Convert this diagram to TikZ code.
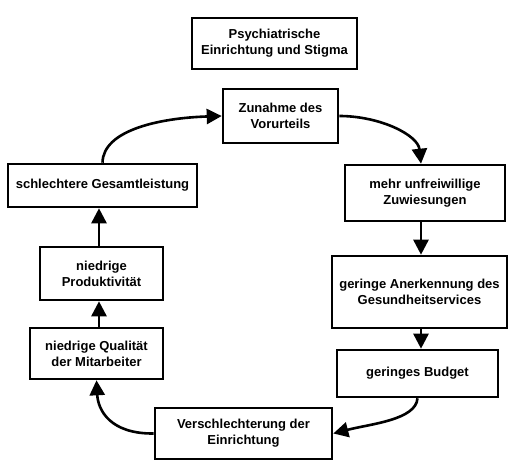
\documentclass[tikz,border=0pt]{standalone}
\usepackage{fontspec}
\setmainfont{Liberation Sans}
\usetikzlibrary{arrows.meta}
\begin{document}
\begin{tikzpicture}[x=1pt,y=-1pt,
  box/.style={draw,line width=2.6pt,inner sep=0pt,align=center,font=\bfseries\fontsize{13}{16}\selectfont},
  conn/.style={line width=2.6pt,-{Triangle[length=15pt,width=15pt]}}]
\useasboundingbox (0,0) rectangle (515,468);
\node[box,minimum width=165pt,minimum height=51pt] (t) at (274.5,43.5) {Psychiatrische\\Einrichtung und Stigma};
\node[box,minimum width=115pt,minimum height=54pt] (z) at (280.5,116) {Zunahme des\\Vorurteils};
\node[box,minimum width=189pt,minimum height=43pt] (s) at (102.5,185.5) {schlechtere Gesamtleistung};
\node[box,minimum width=160pt,minimum height=56pt] (m) at (425,193) {mehr unfreiwillige\\Zuwiesungen};
\node[box,minimum width=123pt,minimum height=53pt] (p) at (101.5,273.5) {niedrige\\Produktivität};
\node[box,minimum width=175pt,minimum height=72pt] (g) at (419.5,292) {geringe Anerkennung des\\Gesundheitservices};
\node[box,minimum width=133pt,minimum height=51pt] (q) at (96.5,353.5) {niedrige Qualität\\der Mitarbeiter};
\node[box,minimum width=161pt,minimum height=47pt] (b) at (417.5,373.5) {geringes Budget};
\node[box,minimum width=177pt,minimum height=51pt] (v) at (243.5,433.5) {Verschlechterung der\\Einrichtung};
\coordinate (xr) at (421,0);
\coordinate (xl) at (99,0);
\draw[conn] (s.north) .. controls (103,130) and (160,118) .. (z.west);
\draw[conn] (z.east) .. controls (380,116) and (418,135) .. (xr |- m.north);
\draw[conn] (xr |- m.south) -- (xr |- g.north);
\draw[conn] (xr |- g.south) -- (xr |- b.north);
\draw[conn] (b.south) .. controls (416,420) and (370,424) .. (v.east);
\draw[conn] (v.west) .. controls (110,434) and (98,410) .. (q.south);
\draw[conn] (xl |- q.north) -- (xl |- p.south);
\draw[conn] (xl |- p.north) -- (xl |- s.south);
\end{tikzpicture}
\end{document}
